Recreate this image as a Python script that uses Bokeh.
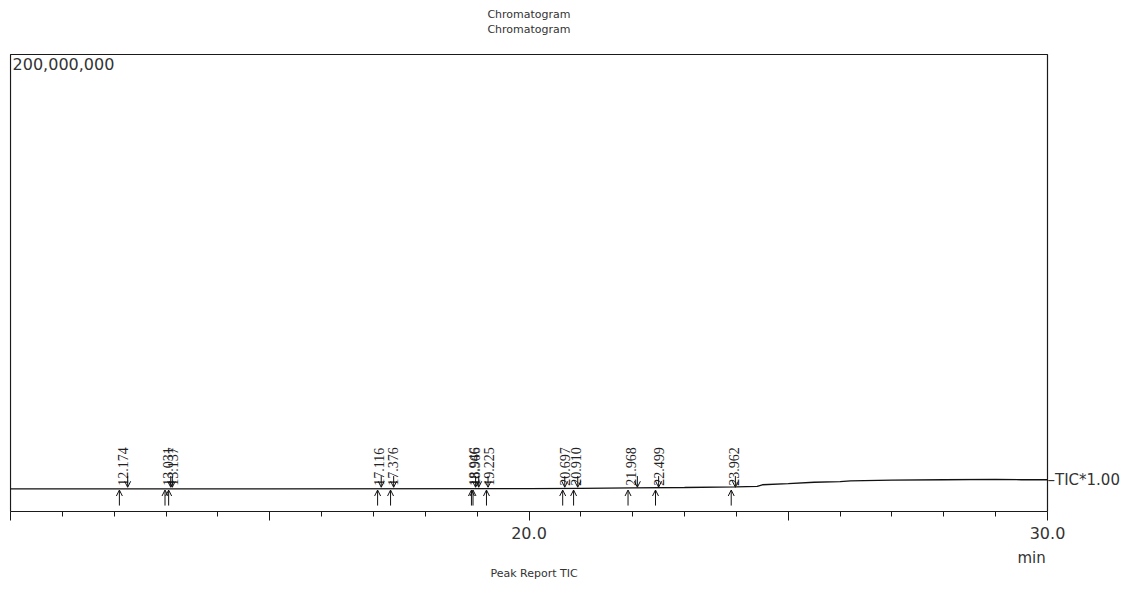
import math
from bokeh.plotting import figure
from bokeh.models import ColumnDataSource, Arrow, OpenHead, Label, FixedTicker, Range1d, Title
from bokeh.embed import file_html
from bokeh.resources import INLINE
from bokeh.core.properties import value

# ---- data ----
peak_rt = [12.174, 13.031, 13.137, 17.116, 17.376, 18.946, 18.966, 19.225,
           20.697, 20.910, 21.968, 22.499, 23.962]
peak_labels = ["12.174", "13.031", "13.137", "17.116", "17.376", "18.946", "18.966",
               "19.225", "20.697", "20.910", "21.968", "22.499", "23.962"]
peak_start = [12.10, 12.98, 13.05, 17.08, 17.33, 18.89, 18.92, 19.18,
              20.65, 20.86, 21.91, 22.44, 23.90]
peak_end = [12.26, 13.09, 13.12, 17.15, 17.39, 18.97, 19.03, 19.21,
            20.69, 20.94, 22.09, 22.50, 23.98]

tic_time = [10.0, 15.0, 20.0, 21.0, 22.0, 23.0, 24.0, 24.4, 24.5, 25.0, 25.5,
            26.0, 26.2, 27.0, 28.0, 29.0, 29.5, 30.0]
tic_int_m = [9.9, 9.9, 10.0, 10.1, 10.3, 10.5, 10.8, 11.0, 11.7, 12.2, 12.8,
             13.1, 13.4, 13.7, 13.9, 14.1, 13.9, 13.9]

x_ticks = [10, 15, 20, 25, 30]
x_tick_labels = {10: "", 15: "", 20: "20.0", 25: "", 30: "30.0"}
x_min, x_max = 10, 30
y_max = 200_000_000

UI = "DejaVu Sans"
TXT = "#333333"
LINE = "#1a1a1a"

# frame: x 10 min at px 10, 30 min at px 1047; y 0 at px 511, 200M at px 54
PX_PER_MIN = 1037 / 20.0
PX_PER_Y = 457 / y_max
W, H = 1128, 587
left_px, bottom_px = 9, 511
x0 = x_min - (10 - left_px) / PX_PER_MIN
x1 = x0 + (W - left_px) / PX_PER_MIN
y1 = bottom_px / PX_PER_Y

p = figure(width=W, height=H, x_range=Range1d(x0, x1), y_range=Range1d(0, y1),
           output_backend="svg", toolbar_location=None, y_axis_location=None,
           min_border_left=left_px, min_border_right=0, min_border_top=0,
           min_border_bottom=H - bottom_px)
p.xgrid.visible = False
p.ygrid.visible = False
p.outline_line_color = None
p.background_fill_color = "white"
p.border_fill_color = "white"

ax = p.xaxis[0]
ax.bounds = (x_min, x_max)
ax.ticker = FixedTicker(ticks=x_ticks, minor_ticks=list(range(x_min, x_max + 1)))
ax.major_label_overrides = x_tick_labels
ax.major_tick_in = 0
ax.major_tick_out = 9
ax.minor_tick_in = 0
ax.minor_tick_out = 5
ax.axis_line_color = LINE
ax.axis_line_width = 1.2
ax.major_tick_line_color = LINE
ax.minor_tick_line_color = LINE
ax.major_label_text_font = UI
ax.major_label_text_font_size = "16px"
ax.major_label_text_color = TXT
ax.major_label_standoff = 6

# box (top, left, right)
p.line([x_min, x_min, x_max, x_max], [0, y_max, y_max, 0], line_color=LINE, line_width=1.2)

# TIC trace
tic_int = [v * 1e6 for v in tic_int_m]
p.line(tic_time, tic_int, line_color="#111111", line_width=1.3)

# peak markers
n = len(peak_rt)
src = ColumnDataSource(dict(
    rt=peak_rt, lab=peak_labels, s=peak_start, e=peak_end,
    up0=[2.6e6] * n, up1=[9.4e6] * n, dn0=[15.5e6] * n, dn1=[10.6e6] * n,
    ly=[11.3e6] * n))
p.add_layout(Arrow(end=OpenHead(size=6, line_width=1, line_color="#111111"),
                   x_start="s", y_start="up0", x_end="s", y_end="up1",
                   source=src, line_width=1, line_color="#111111"))
p.add_layout(Arrow(end=OpenHead(size=6, line_width=1, line_color="#111111"),
                   x_start="e", y_start="dn0", x_end="e", y_end="dn1",
                   source=src, line_width=1, line_color="#111111"))
p.text(x="rt", y="ly", text="lab", source=src, angle=math.pi / 2,
       text_align="left", text_baseline="middle",
       text_font=value("Liberation Serif"), text_font_size="14px", text_color="#222222")

# texts inside the frame area
p.add_layout(Label(x=20.0, y=217.5e6, text="Chromatogram", text_align="center",
                   text_baseline="middle", text_font=UI, text_font_size="11px", text_color=TXT))
p.add_layout(Label(x=20.0, y=210.9e6, text="Chromatogram", text_align="center",
                   text_baseline="middle", text_font=UI, text_font_size="11px", text_color=TXT))
p.add_layout(Label(x=10.04, y=198.3e6, text="200,000,000", text_align="left",
                   text_baseline="top", text_font=UI, text_font_size="16px", text_color=TXT))
p.add_layout(Label(x=x_max, y=13.9e6, text="\u2013TIC*1.00", text_align="left",
                   text_baseline="middle", text_font=UI, text_font_size="15px", text_color=TXT))

# texts below the axis
p.add_layout(Title(text="min", align="left", offset=1008, standoff=10, text_font=UI,
                   text_font_size="15px", text_font_style="normal", text_color=TXT), "below")
p.add_layout(Title(text="Peak Report TIC", align="left", offset=481, standoff=-14, text_font=UI,
                   text_font_size="11px", text_font_style="normal", text_color=TXT), "below")

open("out.html", "w").write(file_html(p, INLINE))
